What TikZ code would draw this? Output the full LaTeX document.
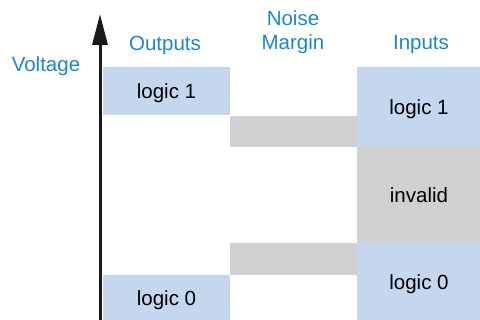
\documentclass[tikz,border=0pt]{standalone}
\usepackage{fontspec}
\setmainfont{Liberation Sans}
\usetikzlibrary{arrows.meta}
\definecolor{boxblue}{RGB}{197,215,238}
\definecolor{boxgrey}{RGB}{208,208,210}
\definecolor{lblblue}{RGB}{28,134,202}
\begin{document}
\begin{tikzpicture}[x=1pt,y=-1pt,
  cell/.style={anchor=north west, inner sep=0pt, outer sep=0pt, text depth=0pt, font=\fontsize{20.5}{24}\selectfont, text=black},
  bluecell/.style={cell, fill=boxblue},
  greycell/.style={cell, fill=boxgrey},
  lbl/.style={font=\fontsize{20.5}{24}\selectfont, text=lblblue, align=center, inner sep=0pt}]
\useasboundingbox (0,0) rectangle (480,320);
% outputs
\node[bluecell, minimum width=127pt, minimum height=48pt] (o1) at (103,67) {logic 1};
\node[bluecell, minimum width=127pt, minimum height=46pt] (o0) at (103,275) {logic 0};
% noise margins
\node[greycell, minimum width=127pt, minimum height=31pt] (n1) at (230,116) {};
\node[greycell, minimum width=127pt, minimum height=32pt] (n0) at (230,243) {};
% inputs
\node[bluecell, minimum width=124pt, minimum height=80pt] (i1) at (357,67) {logic 1};
\node[greycell, minimum width=124pt, minimum height=96pt] (iv) at (357,147) {invalid};
\node[bluecell, minimum width=124pt, minimum height=78pt] (i0) at (357,243) {logic 0};
% labels
\node[lbl] (volt) at (46,66) {Voltage};
\node[lbl] (outl) at (165,45) {Outputs};
\node[lbl] (noil) at (293,32) {Noise\\Margin};
\node[lbl] (inl) at (421,45) {Inputs};
% axis
\coordinate (ax0) at (100,321);
\coordinate (ax1) at (100,14);
\draw[line width=3pt, black!90, -{Triangle[length=31pt,width=15pt]}] (ax0) -- (ax1);
\end{tikzpicture}
\end{document}
